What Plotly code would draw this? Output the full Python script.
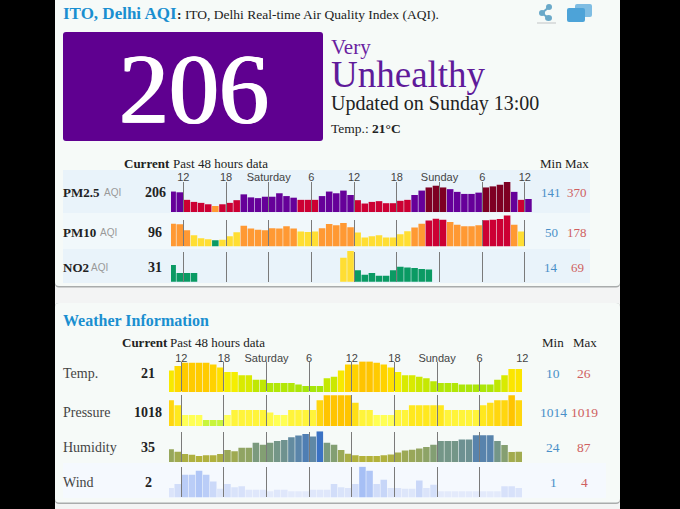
import plotly.graph_objects as go

W, H = 680, 509
SERIF = "Liberation Serif"
SANS = "Liberation Sans"

# ---------- data ----------
tick_hours = [0, 6, 12, 18, 24, 30, 36, 42, 48]
tick_labels = ["12", "18", "Saturday", "6", "12", "18", "Sunday", "6", "12"]

pm25 = [275, 268, 198, 179, 170, 157, 141, 157, 170, 195, 249, 221, 214, 227, 227, 259, 233,
        218, 198, 198, 198, 233, 275, 259, 284, 243, 195, 164, 179, 186, 167, 167, 189, 198,
        243, 284, 313, 329, 313, 297, 272, 253, 253, 265, 313, 323, 338, 370, 272, 198, 206]
pm10 = [136, 133, 102, 76, 60, 55, 50, 53, 71, 92, 126, 111, 105, 102, 112, 111, 123, 111,
        95, 93, 95, 112, 135, 128, 140, 117, 90, 64, 71, 76, 64, 64, 81, 97, 116, 136, 152,
        162, 156, 145, 131, 123, 123, 128, 154, 156, 161, 178, 130, 96]
no2 = [38, 20, 20, 20] + [None] * 20 + [54, 69, 26, 16, 20, 14, 14, 26, 34, 32, 31, 29, 28]
temp = [20, 23, 25, 25, 25, 25, 24, 22, 19, 19, 17, 17, 14, 14, 12, 12, 12, 12, 11, 10, 10, 10,
        15, 16, 20, 24, 24, 26, 26, 25, 24, 22, 19, 17, 17, 16, 15, 13, 12, 12, 12, 11, 11, 11,
        11, 11, 14, 17, 21, 21]
pressure = [1018, 1017, 1015, 1015, 1015, 1014, 1014, 1014, 1015, 1016, 1016, 1016, 1016, 1016,
            1015.5, 1015, 1015, 1016, 1016, 1016, 1016, 1018, 1019, 1019, 1019, 1019, 1017.5,
            1016, 1016, 1015, 1015, 1015, 1016, 1016, 1017, 1017, 1017, 1017, 1017, 1016, 1016,
            1016, 1016, 1016, 1017, 1017.5, 1018, 1018, 1019, 1018]
humidity = [41, 35, 29, 27, 24, 26, 26, 29, 39, 36, 45, 45, 58, 53, 58, 62, 65, 72, 76, 80, 74,
            87, 58, 53, 39, 30, 26, 24, 24, 24, 26, 28, 33, 38, 40, 43, 47, 53, 62, 62, 62, 66,
            66, 77, 77, 77, 62, 52, 34, 35]
wind = [1.4, 1.9, 3, 3, 3.5, 3, 2.2, 1.3, 1.9, 1.5, 1.6, 1.2, 1.2, 1.2, 1, 1.2, 1.2, 1, 1, 1,
        1.2, 1.2, 1.2, 1.9, 1.5, 1.4, 1.9, 4, 3.5, 1.9, 2.4, 1.4, 1.4, 1.3, 1.3, 2.3, 1.4, 1.8,
        1, 1, 1, 1, 1, 1, 1, 1, 1, 1.6, 1.6, 1.4]


# ---------- helpers ----------
def X(px):
    return px / W


def Y(py):
    return 1 - py / H


def aqi_color(v):
    if v is None:
        return "rgba(0,0,0,0)"
    if v <= 50:
        return "#0a9a63"
    if v <= 100:
        return "#ffde33"
    if v <= 150:
        return "#ff9933"
    if v <= 200:
        return "#cc0033"
    if v <= 300:
        return "#660099"
    return "#7e0023"


def rounded(x0, y0, x1, y1, r):
    p = [
        f"M {X(x0 + r)} {Y(y0)}", f"L {X(x1 - r)} {Y(y0)}", f"Q {X(x1)} {Y(y0)} {X(x1)} {Y(y0 + r)}",
        f"L {X(x1)} {Y(y1 - r)}", f"Q {X(x1)} {Y(y1)} {X(x1 - r)} {Y(y1)}", f"L {X(x0 + r)} {Y(y1)}",
        f"Q {X(x0)} {Y(y1)} {X(x0)} {Y(y1 - r)}", f"L {X(x0)} {Y(y0 + r)}",
        f"Q {X(x0)} {Y(y0)} {X(x0 + r)} {Y(y0)}", "Z",
    ]
    return " ".join(p)


shapes = []
annotations = []


def box(x0, y0, x1, y1, color, r=0, line=None):
    if r:
        shapes.append(dict(type="path", path=rounded(x0, y0, x1, y1, r), xref="paper", yref="paper",
                           fillcolor=color, line=dict(width=1 if line else 0, color=line or color),
                           layer="below"))
    else:
        shapes.append(dict(type="rect", x0=X(x0), x1=X(x1), y0=Y(y0), y1=Y(y1), xref="paper", yref="paper",
                           fillcolor=color, line=dict(width=0), layer="below"))


def text(px, py, s, size=13, color="#222", family=SERIF, anchor="left", **font_extra):
    annotations.append(dict(x=X(px), y=Y(py), xref="paper", yref="paper", text=s, showarrow=False,
                            xanchor=anchor, yanchor="middle", align=anchor,
                            font=dict(size=size, color=color, family=family, **font_extra),
                            xshift=0, yshift=0, borderpad=0, borderwidth=0))


# ---------- page furniture ----------
box(55, 0, 620, 509, "#f3f4f4")
box(55, -6, 620, 287.5, "#a9acac", r=4)
box(55, -6, 620, 286, "#f6faf8", r=4)
box(55, 303, 620, 504, "#a9acac", r=4)
box(55, 303, 620, 502.5, "#f6faf8", r=4)

box(63, 170, 590, 213, "#e9f3fa")
box(63, 213, 590, 249, "#f1f8fb")
box(63, 249, 590, 283, "#e9f3fa")
box(63, 463, 606, 498, "#f5f9fe")

box(63, 32, 323, 141, "#5f0090", r=3)

# icons
shapes.append(dict(type="circle", xref="paper", yref="paper", x0=X(546), x1=X(552), y0=Y(10), y1=Y(4),
                   fillcolor="#6aa9c9", line=dict(width=0)))
shapes.append(dict(type="circle", xref="paper", yref="paper", x0=X(539), x1=X(545), y0=Y(16), y1=Y(10),
                   fillcolor="#6aa9c9", line=dict(width=0)))
shapes.append(dict(type="circle", xref="paper", yref="paper", x0=X(545), x1=X(552), y0=Y(21), y1=Y(15),
                   fillcolor="#6aa9c9", line=dict(width=0)))
shapes.append(dict(type="path", xref="paper", yref="paper",
                   path=f"M {X(549)} {Y(7)} L {X(542)} {Y(13)} L {X(548)} {Y(18)}",
                   line=dict(width=2, color="#6aa9c9")))
box(537, 22, 556, 24, "#dcdfdf")
shapes.append(dict(type="path", xref="paper", yref="paper", path=rounded(575, 4, 592, 17, 2),
                   fillcolor="#7fbde3", line=dict(width=0)))
shapes.append(dict(type="path", xref="paper", yref="paper", path=rounded(567, 8, 585, 22, 2),
                   fillcolor="#4da3d8", line=dict(width=0)))

# ---------- text ----------
text(63, 14, "<b>ITO, Delhi AQI</b>", 17, "#1a8fd0")
text(177, 15, "<b>:</b> ITO, Delhi Real-time Air Quality Index (AQI).", 13.5, "#222")
text(193.5, 89, "206", 100, "#ffffff", anchor="center", shadow="1px 0 0 #ffffff, -1px 0 0 #ffffff")
text(331, 47, "Very", 21, "#6a1fa0")
text(331, 75, "Unhealthy", 37, "#5f1a9a")
text(331, 104, "Updated on Sunday 13:00", 20, "#222")
text(331, 128, "Temp.: <b>21°C</b>", 13.5, "#222")

text(124, 163, "<b>Current</b>", 13)
text(173, 163, "Past 48 hours data", 13)
text(540, 163, "Min", 13)
text(565, 163, "Max", 13)

MIN_C, MAX_C = "#4a90c8", "#cf6060"
for py, name, aqi_x, cur, mn, mx in [
    (192, "PM2.5", 104, "206", "141", "370"),
    (232, "PM10", 100, "96", "50", "178"),
    (267, "NO2", 91, "31", "14", "69"),
]:
    text(63, py, f"<b>{name}</b>", 13)
    text(aqi_x, py, "AQI", 10, "#999", SANS)
    text(155, py, f"<b>{cur}</b>", 14, anchor="center")
    text(551, py, mn, 13, MIN_C, anchor="center")
    text(577, py, mx, 13, MAX_C, anchor="center")

text(63, 320, "<b>Weather Information</b>", 16, "#1a8fd0")
text(122, 342, "<b>Current</b>", 13)
text(170, 342, "Past 48 hours data", 13)
text(542, 342, "Min", 13)
text(573, 342, "Max", 13)
for py, name, cur, mn, mx in [
    (373, "Temp.", "21", "10", "26"),
    (412, "Pressure", "1018", "1014", "1019"),
    (447, "Humidity", "35", "24", "87"),
    (482, "Wind", "2", "1", "4"),
]:
    text(63, py, name, 14, "#444")
    text(148, py, f"<b>{cur}</b>", 14, anchor="center")
    text(553, py, mn, 13.5, MIN_C, anchor="center")
    text(584, py, mx, 13.5, MAX_C, anchor="center")

# ---------- bar rows ----------
temp_scale = [[0, "#a6e60a"], [0.375, "#cbe800"], [0.5625, "#f5ee00"], [0.75, "#ffe000"], [1, "#ffc400"]]
pres_scale = [[0, "#c8f53c"], [0.2, "#ffff55"], [0.6, "#ffe81e"], [1, "#ffc400"]]
hum_scale = [[0, "#b3b23a"], [0.5, "#7f9d78"], [0.8, "#5f88a6"], [1, "#3b72c4"]]
wind_scale = [[0, "#e3eafb"], [1, "#a6bff5"]]

rows = [
    dict(v=pm25, lo=141, hi=370, top=182, base=212, tick=182, px=(171, 532), xr=(-1.73, 49), side="top", col="aqi", standoff=-2),
    dict(v=pm10, lo=50, hi=178, top=215, base=246.3, tick=220, px=(171, 532), xr=(-1.73, 49), col="aqi"),
    dict(v=no2, lo=14, hi=69, top=251, base=281.7, tick=252, px=(171, 532), xr=(-1.73, 49), col="aqi"),
    dict(v=temp, lo=10, hi=26, top=361.5, base=392, tick=363, px=(169, 522.3), xr=(-1.73, 48), side="top", col=temp_scale, standoff=-4),
    dict(v=pressure, lo=1014, hi=1019, top=395, base=426, tick=395, px=(169, 522.3), xr=(-1.73, 48), col=pres_scale),
    dict(v=humidity, lo=24, hi=87, top=431.3, base=462, tick=432, px=(169, 522.3), xr=(-1.73, 48), col=hum_scale),
    dict(v=wind, lo=1, hi=4, top=466.7, base=497.3, tick=467, px=(169, 522.3), xr=(-1.73, 48), col=wind_scale),
]

fig = go.Figure()
layout_axes = {}
for i, r in enumerate(rows, start=1):
    s = "" if i == 1 else str(i)
    units = (r["hi"] - r["lo"]) / 24.7
    y0 = r["lo"] - 6 * units
    y1 = y0 + (r["base"] - r["top"]) * units
    if r["col"] == "aqi":
        marker = dict(color=[aqi_color(v) for v in r["v"]], line=dict(width=0))
    else:
        marker = dict(color=r["v"], colorscale=r["col"], cmin=r["lo"], cmax=r["hi"], showscale=False,
                      line=dict(width=0))
    fig.add_trace(go.Bar(x=[k - 1.5 for k in range(len(r["v"]))], y=r["v"], marker=marker,
                         xaxis=f"x{s}", yaxis=f"y{s}", hoverinfo="skip", showlegend=False))
    has_labels = r.get("side") == "top"
    layout_axes[f"xaxis{s}"] = dict(
        domain=[X(r["px"][0]), X(r["px"][1])], range=list(r["xr"]), anchor=f"y{s}",
        side="top" if has_labels else "bottom",
        tickmode="array", tickvals=tick_hours, ticktext=tick_labels,
        showticklabels=has_labels, showgrid=False, zeroline=False, showline=False,
        ticks="inside", ticklen=r["base"] - r["tick"], tickwidth=1, tickcolor="#7a7a7a",
        tickfont=dict(size=11, color="#444", family=SANS), ticklabelstandoff=r.get("standoff", 0),
        fixedrange=True, automargin=False,
    )
    layout_axes[f"yaxis{s}"] = dict(
        domain=[Y(r["base"]), Y(r["top"])], range=[y0, y1], anchor=f"x{s}",
        visible=False, fixedrange=True, automargin=False,
    )

fig.update_layout(
    width=W, height=H, margin=dict(l=0, r=0, t=0, b=0, pad=0, autoexpand=False), autosize=False,
    paper_bgcolor="#000000", plot_bgcolor="rgba(0,0,0,0)", bargap=0.08, showlegend=False,
    shapes=shapes, annotations=annotations, **layout_axes,
)
fig.write_html("out.html", post_script="document.body.style.margin='0';document.body.style.overflow='hidden';",
               config=dict(displayModeBar=False))
